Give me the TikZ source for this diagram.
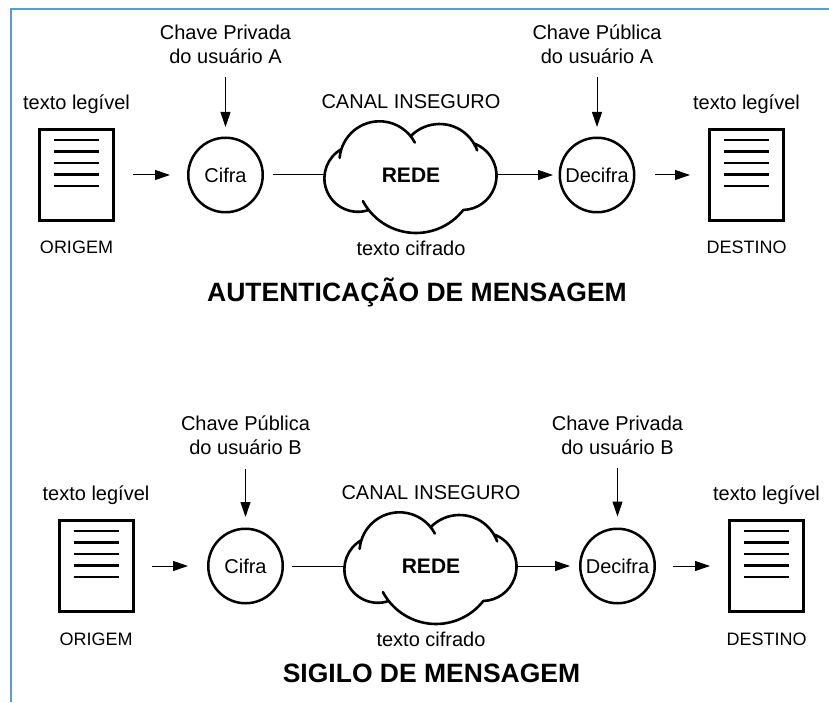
\documentclass[tikz,border=0pt]{standalone}
\usepackage{fontspec}
\setmainfont{Liberation Sans}
\usetikzlibrary{positioning,arrows.meta}

\definecolor{moldura}{RGB}{91,155,213}

\tikzset{
  pics/nuvem/.style={code={
    \draw[line width=2.6pt, line cap=round]
      (-31.5,13.7) ++(175:40) arc[start angle=175, end angle=28, radius=40]
      (28.5,10.9) ++(136:40.1) arc[start angle=136, end angle=20, radius=40.1]
      (51.2,-0.7) ++(70:34.3) arc[start angle=70, end angle=-88, radius=34.3]
      (5,2.1) ++(-38:60.1) arc[start angle=-38, end angle=-152, radius=60.1]
      (-53.1,-3.3) ++(-71:33.5) arc[start angle=-71, end angle=-240.5, radius=33.5];
  }}
}

\begin{document}
\begin{tikzpicture}[x=1pt, y=1pt,
    doc/.style={rectangle, draw, line width=3pt, minimum width=74pt, minimum height=91pt, inner sep=0pt,
      path picture={\foreach \dy in {35,23.5,12,0.5,-11}
        \draw[line width=2.5pt] ([shift={(-22.5pt,\dy pt)}]path picture bounding box.center) -- ++(45pt,0pt);}},
    proc/.style={circle, draw, line width=2.5pt, minimum size=74.5pt, inner sep=0pt, font=\fontsize{20}{24}\selectfont},
    rede/.style={rectangle, minimum width=172pt, minimum height=110pt, inner sep=0pt, outer sep=0pt, font=\bfseries\fontsize{21}{25}\selectfont},
    rotulo/.style={inner sep=0pt, align=center, font=\fontsize{20}{24}\selectfont},
    ponta/.style={inner sep=0pt, font=\fontsize{18}{22}\selectfont},
    titulo/.style={anchor=base, inner sep=0pt, font=\bfseries\fontsize{26.5}{30}\selectfont},
    seta/.style={->, >={Triangle[length=15pt, width=10pt]}, line width=1pt},
    linha/.style={line width=1pt}
]
\useasboundingbox (0,0) rectangle (829,702);
\draw[moldura, line width=2pt] (10.5,0) -- (10.5,692.5) -- (829,692.5);

% autenticacao de mensagem
\node[doc] (origemA) at (76.5,527) {};
\node[proc, right=72pt of origemA] (cifraA) {Cifra};
\node[rede, right=61pt of cifraA] (redeA) {REDE};
\node[proc, right=61.5pt of redeA] (decifraA) {Decifra};
\node[doc, right=72.5pt of decifraA] (destinoA) {};
\pic at (redeA) {nuvem};

\node[rotulo, above=14pt of origemA] (legivelA1) {texto legível};
\node[ponta, below=19pt of origemA] (origA) {ORIGEM};
\node[rotulo, above=73pt of cifraA] (chaveA1) {Chave Privada\\do usuário A};
\node[rotulo, above=11.5pt of redeA] (canalA) {CANAL INSEGURO};
\node[rotulo, below=10.5pt of redeA] (cifradoA) {texto cifrado};
\node[rotulo, above=73pt of decifraA] (chaveA2) {Chave Pública\\do usuário A};
\node[rotulo, above=14pt of destinoA] (legivelA2) {texto legível};
\node[ponta, below=19pt of destinoA] (destA) {DESTINO};
\node[titulo] (tituloA) at (417,400) {AUTENTICAÇÃO DE MENSAGEM};

\draw[seta, shorten <=13.5pt, shorten >=9.5pt] (chaveA1) -- (cifraA);
\draw[seta, shorten <=13.5pt, shorten >=9.5pt] (chaveA2) -- (decifraA);
\draw[seta, shorten <=18pt, shorten >=17pt] (origemA) -- (cifraA);
\draw[linha, shorten <=9pt] (cifraA) -- (redeA);
\draw[seta, shorten >=5.5pt] (redeA) -- (decifraA);
\draw[seta, shorten <=19.5pt, shorten >=18pt] (decifraA) -- (destinoA);

% sigilo de mensagem
\node[doc] (origemB) at (96,136) {};
\node[proc, right=72.5pt of origemB] (cifraB) {Cifra};
\node[rede, right=61pt of cifraB] (redeB) {REDE};
\node[proc, right=62pt of redeB] (decifraB) {Decifra};
\node[doc, right=72pt of decifraB] (destinoB) {};
\pic at (redeB) {nuvem};

\node[rotulo, above=14pt of origemB] (legivelB1) {texto legível};
\node[ponta, below=20pt of origemB] (origB) {ORIGEM};
\node[rotulo, above=73pt of cifraB] (chaveB1) {Chave Pública\\do usuário B};
\node[rotulo, above=11.5pt of redeB] (canalB) {CANAL INSEGURO};
\node[rotulo, below=10.5pt of redeB] (cifradoB) {texto cifrado};
\node[rotulo, above=73pt of decifraB] (chaveB2) {Chave Privada\\do usuário B};
\node[rotulo, above=14pt of destinoB] (legivelB2) {texto legível};
\node[ponta, below=20pt of destinoB] (destB) {DESTINO};
\node[titulo] (tituloB) at (431.5,20) {SIGILO DE MENSAGEM};

\draw[seta, shorten <=14pt, shorten >=10.5pt] (chaveB1) -- (cifraB);
\draw[seta, shorten <=13pt, shorten >=11pt] (chaveB2) -- (decifraB);
\draw[seta, shorten <=17.5pt, shorten >=19pt] (origemB) -- (cifraB);
\draw[linha, shorten <=8pt] (cifraB) -- (redeB);
\draw[seta, shorten >=9pt] (redeB) -- (decifraB);
\draw[seta, shorten <=17pt, shorten >=18pt] (decifraB) -- (destinoB);

\end{tikzpicture}
\end{document}
